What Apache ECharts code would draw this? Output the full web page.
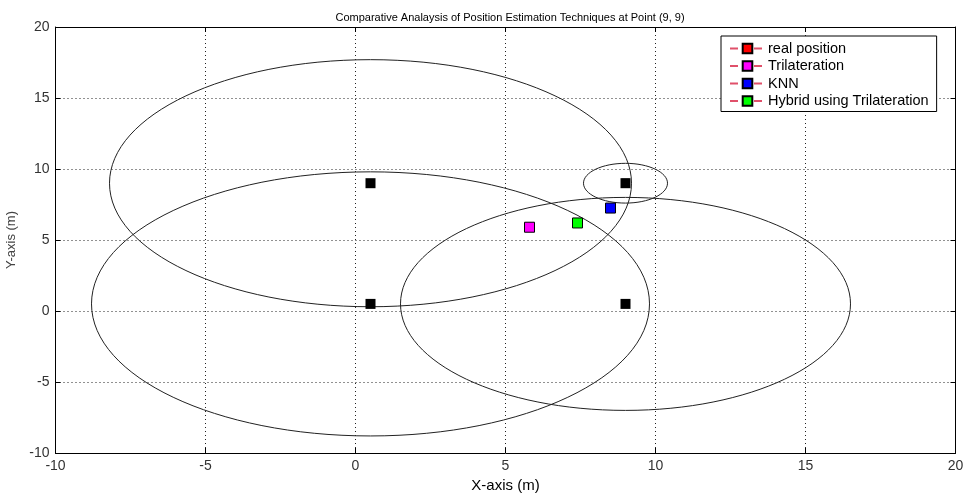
<!DOCTYPE html>
<html>
<head>
<meta charset="utf-8">
<script src="https://cdn.jsdelivr.net/npm/echarts@6/dist/echarts.min.js"></script>
<style>html,body{margin:0;padding:0;background:#fff}#c{width:967px;height:493px}</style>
</head>
<body>
<div id="c"></div>
<script>
// Anchor (access point) positions
const anchors = [[0.5, 9], [0.5, 0.5], [9, 0.5], [9, 9]];
// Range circles: [centerX, centerY, radius]
const circles = [[0.5, 9, 8.7], [0.5, 0.5, 9.3], [9, 0.5, 7.5], [9, 9, 1.4]];
// Estimated positions
const realPos = [[9, 9]];
const trilateration = [[5.8, 5.9]];
const knn = [[8.5, 7.25]];
const hybrid = [[7.4, 6.2]];
const seriesNames = ['real position', 'Trilateration', 'KNN', 'Hybrid using Trilateration'];
const seriesColors = ['#ff0000', '#ff00ff', '#0000ff', '#00ff00'];
const xTicks = [-10, 20, 5];
const yTicks = [-10, 20, 5];

const font = 'Liberation Sans, Arial, sans-serif';
const chart = echarts.init(document.getElementById('c'));

function estSeries(name, data, color, size) {
  return {
    name: name, type: 'line', data: data,
    symbol: 'rect', symbolSize: size || 10,
    itemStyle: { color: color, borderColor: '#000', borderWidth: 1, opacity: 1 },
    lineStyle: { color: '#e0506a', type: 'dashed', width: 1 },
    z: 5
  };
}

const axisCommon = {
  type: 'value',
  axisLine: { show: true, onZero: false, lineStyle: { color: '#000', width: 1 } },
  axisTick: { show: true, inside: true, length: 5, lineStyle: { color: '#000' } },
  axisLabel: { color: '#333', fontSize: 14, fontFamily: font },
  splitLine: { show: false }
};

chart.setOption({
  animation: false,
  backgroundColor: '#fff',
  title: {
    text: 'Comparative Analaysis of Position Estimation Techniques at Point (9, 9)',
    left: 505, top: 7, textAlign: 'center',
    textStyle: { fontSize: 11, fontWeight: 'normal', color: '#000', fontFamily: font }
  },
  grid: { left: 55.5, right: 11.5, top: 27, bottom: 40, outerBoundsMode: 'none', containLabel: false },
  legend: {
    orient: 'vertical', left: 721, top: 36,
    data: seriesNames,
    backgroundColor: '#fff', borderColor: '#000', borderWidth: 1,
    padding: [5, 8, 3, 8], itemGap: 2.5, itemWidth: 35, itemHeight: 12,
    textStyle: { fontSize: 14.5, color: '#000', fontFamily: font, padding: [0, 0, 0, -2] }
  },
  xAxis: [
    Object.assign({}, axisCommon, {
      min: xTicks[0], max: xTicks[1], interval: xTicks[2], position: 'bottom',
      name: 'X-axis (m)', nameLocation: 'middle', nameGap: 23,
      nameTextStyle: { fontSize: 15, color: '#000', fontFamily: font },
      axisLabel: Object.assign({}, axisCommon.axisLabel, { margin: 6 }),
      splitLine: { show: true, lineStyle: { color: '#222', type: [1, 3], width: 1 } }
    }),
    Object.assign({}, axisCommon, {
      min: xTicks[0], max: xTicks[1], interval: xTicks[2], position: 'top',
      axisLabel: { show: false }
    })
  ],
  yAxis: [
    Object.assign({}, axisCommon, {
      min: yTicks[0], max: yTicks[1], interval: yTicks[2], position: 'left',
      name: 'Y-axis (m)', nameLocation: 'middle', nameGap: 34,
      nameTextStyle: { fontSize: 13, color: '#444', fontFamily: font },
      axisLabel: Object.assign({}, axisCommon.axisLabel, { margin: 6 }),
      splitLine: { show: true, lineStyle: { color: '#222', type: [1, 3], width: 1 } }
    }),
    Object.assign({}, axisCommon, {
      min: yTicks[0], max: yTicks[1], interval: yTicks[2], position: 'right',
      axisLabel: { show: false }
    })
  ],
  series: [
    {
      type: 'custom', data: circles, z: 3, silent: true,
      renderItem: function (params, api) {
        const c = api.coord([api.value(0), api.value(1)]);
        const s = api.size([api.value(2), api.value(2)]);
        return {
          type: 'ellipse',
          shape: { cx: c[0], cy: c[1], rx: s[0], ry: s[1] },
          style: { fill: 'none', stroke: '#222', lineWidth: 1 }
        };
      }
    },
    estSeries(seriesNames[0], realPos, seriesColors[0], 8),
    {
      type: 'scatter', data: anchors, symbol: 'rect', symbolSize: 10,
      itemStyle: { color: '#000', opacity: 1 }, z: 6
    },
    estSeries(seriesNames[1], trilateration, seriesColors[1]),
    estSeries(seriesNames[2], knn, seriesColors[2]),
    estSeries(seriesNames[3], hybrid, seriesColors[3])
  ]
});
</script>
</body>
</html>
